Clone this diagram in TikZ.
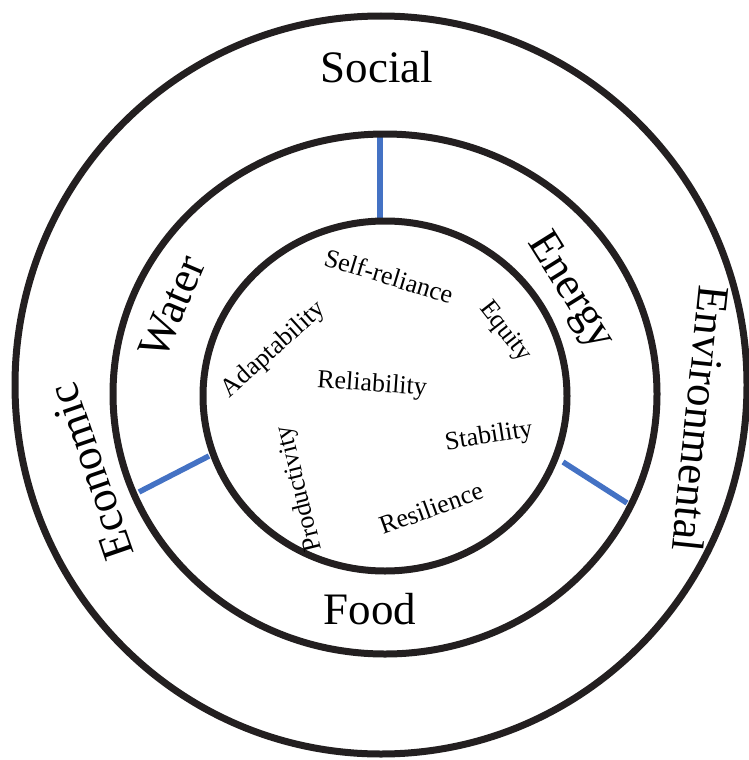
\documentclass[tikz,border=0pt]{standalone}
\usepackage{fontspec}
\setmainfont{Liberation Serif}

\definecolor{ringblack}{HTML}{231F20}
\definecolor{spokeblue}{HTML}{4472C4}

\tikzset{
  ring/.style={draw=ringblack, line width=7pt},
  spoke/.style={draw=spokeblue, line width=5.5pt},
  biglabel/.style={font=\fontsize{45}{50}\selectfont, inner sep=0pt},
  smalllabel/.style={font=\fontsize{26}{29}\selectfont, inner sep=0pt}
}

\begin{document}
\begin{tikzpicture}[scale=1.]

\newcommand\PX{1pt}
\newcommand\PY{-1pt}

\useasboundingbox (0*\PX, 0*\PY) rectangle (748*\PX, 760*\PY);

%% spokes between the sectors
\coordinate (topin)   at (380*\PX, 222*\PY);
\coordinate (topout)  at (380*\PX, 136*\PY);
\coordinate (leftin)  at (209*\PX, 456*\PY);
\coordinate (leftout) at (139*\PX, 492*\PY);
\coordinate (rightin) at (563*\PX, 462*\PY);
\coordinate (rightout) at (627*\PX, 503*\PY);

\draw[spoke] (topin) -- (topout);
\draw[spoke] (leftin) -- (leftout);
\draw[spoke] (rightin) -- (rightout);

%% rings
\draw[ring] (381*\PX, 385*\PY) ellipse [x radius=366pt, y radius=369pt];
\draw[ring] (385*\PX, 394*\PY) ellipse [x radius=272pt, y radius=260pt];
\draw[ring] (385*\PX, 396*\PY) ellipse [x radius=182pt, y radius=175pt];

%% outer ring
\node[biglabel] (social) at (377*\PX, 67*\PY) {Social};
\node[biglabel, rotate=-96] (environ) at (701*\PX, 419*\PY) {Environmental};
\node[biglabel, rotate=109] (economic) at (91*\PX, 472*\PY) {Economic};

%% middle ring
\node[biglabel, rotate=67] (water) at (172*\PX, 307*\PY) {Water};
\node[biglabel, rotate=-58] (energy) at (570*\PX, 292*\PY) {Energy};
\node[biglabel] (food) at (370*\PX, 609*\PY) {Food};

%% core
\node[smalllabel, rotate=-17] (selfrel) at (389*\PX, 276*\PY) {Self-reliance};
\node[smalllabel, rotate=-52] (equity) at (505*\PX, 332*\PY) {Equity};
\node[smalllabel, rotate=42] (adapt) at (274*\PX, 350*\PY) {Adaptability};
\node[smalllabel, rotate=-4] (reliab) at (372*\PX, 385*\PY) {Reliability};
\node[smalllabel, rotate=9] (stab) at (489*\PX, 437*\PY) {Stability};
\node[smalllabel, rotate=20] (resil) at (431*\PX, 508*\PY) {Resilience};
\node[smalllabel, rotate=104] (prod) at (300*\PX, 489*\PY) {Productivity};

\end{tikzpicture}
\end{document}
